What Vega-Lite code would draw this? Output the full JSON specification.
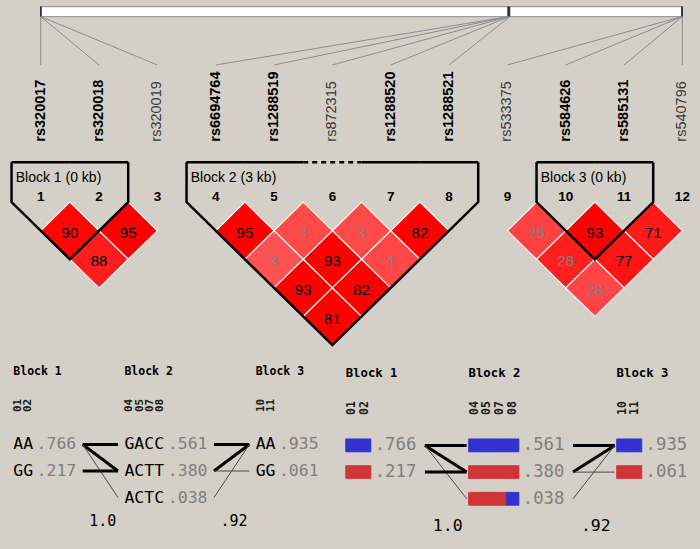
{
  "$schema": "https://vega.github.io/schema/vega-lite/v6.json",
  "background": "#d4d0c8",
  "padding": 0,
  "spacing": 0,
  "bounds": "flush",
  "config": {"view": {"stroke": null}, "axis": {"disable": true}, "legend": {"disable": true}, "concat": {"spacing": 0}},
  "datasets": {
    "markers": [
      {"id": 1, "name": "rs320017", "kb": 0, "block": 1, "used": true},
      {"id": 2, "name": "rs320018", "kb": 0.2, "block": 1, "used": true},
      {"id": 3, "name": "rs320019", "kb": 0.5, "block": null, "used": false},
      {"id": 4, "name": "rs6694764", "kb": 728.0, "block": 2, "used": true},
      {"id": 5, "name": "rs1288519", "kb": 728.9, "block": 2, "used": true},
      {"id": 6, "name": "rs872315", "kb": 729.6, "block": 2, "used": false},
      {"id": 7, "name": "rs1288520", "kb": 730.2, "block": 2, "used": true},
      {"id": 8, "name": "rs1288521", "kb": 731.0, "block": 2, "used": true},
      {"id": 9, "name": "rs533375", "kb": 998.8, "block": null, "used": false},
      {"id": 10, "name": "rs584626", "kb": 999.5, "block": 3, "used": true},
      {"id": 11, "name": "rs585131", "kb": 999.6, "block": 3, "used": true},
      {"id": 12, "name": "rs540796", "kb": 1000, "block": null, "used": false}
    ],
    "ld": [
      {"i": 1, "j": 2, "val": 90, "dp": 0.98},
      {"i": 2, "j": 3, "val": 95, "dp": 1},
      {"i": 1, "j": 3, "val": 88, "dp": 0.89},
      {"i": 4, "j": 5, "val": 95, "dp": 1},
      {"i": 5, "j": 6, "val": 3, "dp": 0.71},
      {"i": 6, "j": 7, "val": 3, "dp": 0.71},
      {"i": 7, "j": 8, "val": 82, "dp": 1},
      {"i": 4, "j": 6, "val": 3, "dp": 0.68},
      {"i": 5, "j": 7, "val": 93, "dp": 1},
      {"i": 6, "j": 8, "val": 4, "dp": 0.72},
      {"i": 4, "j": 7, "val": 93, "dp": 1},
      {"i": 5, "j": 8, "val": 82, "dp": 1},
      {"i": 4, "j": 8, "val": 81, "dp": 1},
      {"i": 9, "j": 10, "val": 25, "dp": 0.745},
      {"i": 10, "j": 11, "val": 93, "dp": 1},
      {"i": 11, "j": 12, "val": 71, "dp": 0.9},
      {"i": 9, "j": 11, "val": 28, "dp": 0.88},
      {"i": 10, "j": 12, "val": 77, "dp": 0.92},
      {"i": 9, "j": 12, "val": 28, "dp": 0.73}
    ],
    "blocks": [
      {"block": 1, "start": 1, "end": 2, "kb": 0},
      {"block": 2, "start": 4, "end": 8, "kb": 3},
      {"block": 3, "start": 10, "end": 11, "kb": 0}
    ],
    "haps": [
      {"block": 1, "rank": 1, "hap": "AA", "freq": 0.766, "to": [1, 2, 3], "w": [2, 2, 1], "mld": 1.0},
      {"block": 1, "rank": 2, "hap": "GG", "freq": 0.217, "to": [2], "w": [2]},
      {"block": 2, "rank": 1, "hap": "GACC", "freq": 0.561, "to": [1], "w": [2], "mld": 0.92},
      {"block": 2, "rank": 2, "hap": "ACTT", "freq": 0.380, "to": [1, 2], "w": [2, 1]},
      {"block": 2, "rank": 3, "hap": "ACTC", "freq": 0.038, "to": [1], "w": [1]},
      {"block": 3, "rank": 1, "hap": "AA", "freq": 0.935, "to": [], "w": []},
      {"block": 3, "rank": 2, "hap": "GG", "freq": 0.061, "to": [], "w": []}
    ]
  },
  "vconcat": [
    {
      "width": 700,
      "height": 355,
      "layer": [
        {
          "data": {"name": "markers"},
          "transform": [
            {"joinaggregate": [{"op": "min", "field": "kb", "as": "kmin"}, {"op": "max", "field": "kb", "as": "kmax"}, {"op": "count", "as": "n"}]},
            {"calculate": "1 + (datum.n - 1) * (datum.kb - datum.kmin) / (datum.kmax - datum.kmin)", "as": "u"}
          ],
          "layer": [
            {
              "transform": [{"aggregate": [{"op": "min", "field": "u", "as": "u0"}, {"op": "max", "field": "u", "as": "u1"}]}],
              "mark": {"type": "rect", "fill": "#ffffff", "stroke": "#8a8a8a", "strokeWidth": 1},
              "encoding": {
                "x": {"field": "u0", "type": "quantitative", "scale": {"domain": [0.302, 12.302], "nice": false, "zero": false}},
                "x2": {"field": "u1"},
                "y": {"datum": -6.832, "type": "quantitative", "scale": {"domain": [-7.066, 5.346], "nice": false, "zero": false, "reverse": true}},
                "y2": {"datum": -6.483}
              }
            },
            {
              "mark": {"type": "rule", "stroke": "#303030", "strokeWidth": 1},
              "encoding": {
                "x": {"field": "u", "type": "quantitative", "scale": {"domain": [0.302, 12.302], "nice": false, "zero": false}},
                "y": {"datum": -6.832, "type": "quantitative", "scale": {"domain": [-7.066, 5.346], "nice": false, "zero": false, "reverse": true}},
                "y2": {"datum": -6.483}
              }
            },
            {
              "mark": {"type": "rule", "stroke": "#8c8c8c", "strokeWidth": 1},
              "encoding": {
                "x": {"field": "u", "type": "quantitative", "scale": {"domain": [0.302, 12.302], "nice": false, "zero": false}},
                "x2": {"field": "id"},
                "y": {"datum": -6.483, "type": "quantitative", "scale": {"domain": [-7.066, 5.346], "nice": false, "zero": false, "reverse": true}},
                "y2": {"datum": -4.794}
              }
            }
          ]
        },
        {
          "data": {"name": "ld"},
          "transform": [
            {"calculate": "(datum.i + datum.j) / 2", "as": "mid"},
            {"calculate": "datum.j - datum.i", "as": "lvl"}
          ],
          "layer": [
            {
              "mark": {"type": "point", "shape": "M-1,0L0,-0.98L1,0L0,0.98Z", "size": 3403, "filled": true, "opacity": 1, "stroke": "#f4f4f4", "strokeWidth": 1.2},
              "encoding": {
                "x": {"field": "mid", "type": "quantitative", "scale": {"domain": [0.302, 12.302], "nice": false, "zero": false}},
                "y": {"field": "lvl", "type": "quantitative", "scale": {"domain": [-7.066, 5.346], "nice": false, "zero": false, "reverse": true}},
                "color": {"field": "dp", "type": "quantitative", "scale": {"domain": [0, 1], "range": ["#ffffff", "#ff0000"], "interpolate": "rgb"}}
              }
            },
            {
              "mark": {"type": "text", "align": "center", "baseline": "middle", "font": "Liberation Sans", "fontSize": 15, "dy": 2},
              "encoding": {
                "x": {"field": "mid", "type": "quantitative", "scale": {"domain": [0.302, 12.302], "nice": false, "zero": false}},
                "y": {"field": "lvl", "type": "quantitative", "scale": {"domain": [-7.066, 5.346], "nice": false, "zero": false, "reverse": true}},
                "text": {"field": "val"},
                "color": {"condition": {"test": "datum.val >= 50", "value": "#000000"}, "value": "#808080"}
              }
            }
          ]
        },
        {
          "data": {"name": "blocks"},
          "transform": [
            {"calculate": "[[datum.start - 0.5, -1.39], [datum.start - 0.5, 0], [(datum.start + datum.end) / 2, datum.end - datum.start + 1], [datum.end + 0.5, 0], [datum.end + 0.5, -1.39]]", "as": "pts"},
            {"flatten": ["pts"], "as": ["pt"]},
            {"calculate": "datum.pt[0]", "as": "px"},
            {"calculate": "datum.pt[1]", "as": "py"},
            {"window": [{"op": "row_number", "as": "ord"}], "groupby": ["block"]}
          ],
          "mark": {"type": "line", "color": "#000000", "strokeWidth": 2.5, "strokeJoin": "miter"},
          "encoding": {
            "x": {"field": "px", "type": "quantitative", "scale": {"domain": [0.302, 12.302], "nice": false, "zero": false}},
            "y": {"field": "py", "type": "quantitative", "scale": {"domain": [-7.066, 5.346], "nice": false, "zero": false, "reverse": true}},
            "detail": {"field": "block", "type": "nominal"},
            "order": {"field": "ord", "type": "quantitative"}
          }
        },
        {
          "data": {"name": "markers"},
          "transform": [
            {"filter": "isValid(datum.block)"},
            {"calculate": "datum.id - 0.5", "as": "lo"},
            {"calculate": "datum.id + 0.5", "as": "hi"},
            {"calculate": "datum.used ? 'solid' : 'dashed'", "as": "sty"}
          ],
          "mark": {"type": "rule", "color": "#000000", "strokeWidth": 2.5},
          "encoding": {
            "x": {"field": "lo", "type": "quantitative", "scale": {"domain": [0.302, 12.302], "nice": false, "zero": false}},
            "x2": {"field": "hi"},
            "y": {"datum": -1.39, "type": "quantitative", "scale": {"domain": [-7.066, 5.346], "nice": false, "zero": false, "reverse": true}},
            "strokeDash": {"field": "sty", "type": "nominal", "scale": {"domain": ["solid", "dashed"], "range": [[1, 0], [5, 4]]}}
          }
        },
        {
          "data": {"name": "blocks"},
          "transform": [{"calculate": "'Block ' + datum.block + ' (' + datum.kb + ' kb)'", "as": "label"}],
          "mark": {"type": "text", "align": "left", "baseline": "middle", "font": "Liberation Sans", "fontSize": 14, "dx": -25, "color": "#000000"},
          "encoding": {
            "x": {"field": "start", "type": "quantitative", "scale": {"domain": [0.302, 12.302], "nice": false, "zero": false}},
            "y": {"datum": -0.84, "type": "quantitative", "scale": {"domain": [-7.066, 5.346], "nice": false, "zero": false, "reverse": true}},
            "text": {"field": "label"}
          }
        },
        {
          "data": {"name": "markers"},
          "transform": [{"filter": "datum.used"}],
          "mark": {"type": "text", "align": "left", "baseline": "middle", "angle": 270, "font": "Liberation Sans", "fontWeight": "bold", "fontSize": 14.5, "dx": 0, "color": "#000000"},
          "encoding": {
            "x": {"field": "id", "type": "quantitative", "scale": {"domain": [0.302, 12.302], "nice": false, "zero": false}},
            "y": {"datum": -2.112, "type": "quantitative", "scale": {"domain": [-7.066, 5.346], "nice": false, "zero": false, "reverse": true}},
            "text": {"field": "name"}
          }
        },
        {
          "data": {"name": "markers"},
          "transform": [{"filter": "!datum.used"}],
          "mark": {"type": "text", "align": "left", "baseline": "middle", "angle": 270, "font": "Liberation Sans", "fontSize": 14.5, "color": "#3a3a3a"},
          "encoding": {
            "x": {"field": "id", "type": "quantitative", "scale": {"domain": [0.302, 12.302], "nice": false, "zero": false}},
            "y": {"datum": -2.112, "type": "quantitative", "scale": {"domain": [-7.066, 5.346], "nice": false, "zero": false, "reverse": true}},
            "text": {"field": "name"}
          }
        },
        {
          "data": {"name": "markers"},
          "mark": {"type": "text", "align": "center", "baseline": "middle", "font": "Liberation Sans", "fontWeight": "bold", "fontSize": 13.5, "color": "#000000"},
          "encoding": {
            "x": {"field": "id", "type": "quantitative", "scale": {"domain": [0.302, 12.302], "nice": false, "zero": false}},
            "y": {"datum": -0.18, "type": "quantitative", "scale": {"domain": [-7.066, 5.346], "nice": false, "zero": false, "reverse": true}},
            "text": {"field": "id"}
          }
        }
      ]
    },
    {
      "spacing": 0,
      "bounds": "flush",
      "hconcat": [
        {
          "width": 340,
          "height": 194,
          "layer": [
            {
              "data": {"name": "haps"},
              "transform": [
                {"calculate": "length(datum.hap)", "as": "nA"},
                {"calculate": "datum.rank == 1 ? datum.nA : 0", "as": "w1"},
                {"window": [{"op": "sum", "field": "w1", "as": "cum"}], "sort": [{"field": "block", "order": "ascending"}, {"field": "rank", "order": "ascending"}]},
                {"calculate": "datum.cum - datum.nA + 9 * (datum.block - 1)", "as": "s"}
              ],
              "layer": [
                {
                  "mark": {"type": "text", "align": "left", "baseline": "middle", "font": "DejaVu Sans Mono", "fontSize": 16.5, "color": "#000000"},
                  "encoding": {
                    "x": {"field": "s", "type": "quantitative", "scale": {"domain": [-1.317, 32.35], "nice": false, "zero": false}},
                    "y": {"field": "rank", "type": "quantitative", "scale": {"domain": [-2.377, 4.943], "nice": false, "zero": false, "reverse": true}},
                    "text": {"field": "hap"}
                  }
                },
                {
                  "transform": [
                    {"calculate": "datum.s + datum.nA + 0.3", "as": "fx"},
                    {"calculate": "substring(format(datum.freq, '.3f'), 1)", "as": "ft"}
                  ],
                  "mark": {"type": "text", "align": "left", "baseline": "middle", "font": "DejaVu Sans Mono", "fontSize": 16.5, "color": "#7f7f7f"},
                  "encoding": {
                    "x": {"field": "fx", "type": "quantitative", "scale": {"domain": [-1.317, 32.35], "nice": false, "zero": false}},
                    "y": {"field": "rank", "type": "quantitative", "scale": {"domain": [-2.377, 4.943], "nice": false, "zero": false, "reverse": true}},
                    "text": {"field": "ft"}
                  }
                },
                {
                  "transform": [
                    {"flatten": ["to", "w"], "as": ["tgt", "wt"]},
                    {"calculate": "datum.s + datum.nA + 4.87", "as": "lx1"},
                    {"calculate": "datum.s + datum.nA + 8.37", "as": "lx2"}
                  ],
                  "mark": {"type": "rule"},
                  "encoding": {
                    "x": {"field": "lx1", "type": "quantitative", "scale": {"domain": [-1.317, 32.35], "nice": false, "zero": false}},
                    "x2": {"field": "lx2"},
                    "y": {"field": "rank", "type": "quantitative", "scale": {"domain": [-2.377, 4.943], "nice": false, "zero": false, "reverse": true}},
                    "y2": {"field": "tgt"},
                    "strokeWidth": {"field": "wt", "type": "quantitative", "scale": {"domain": [1, 2], "range": [1, 3]}},
                    "color": {"condition": {"test": "datum.wt == 2", "value": "#000000"}, "value": "#4a4a4a"}
                  }
                },
                {
                  "transform": [{"filter": "datum.rank == 1"}, {"calculate": "'Block ' + datum.block", "as": "bt"}],
                  "mark": {"type": "text", "align": "left", "baseline": "middle", "font": "DejaVu Sans Mono", "fontWeight": "bold", "fontSize": 11.5, "color": "#000000"},
                  "encoding": {
                    "x": {"field": "s", "type": "quantitative", "scale": {"domain": [-1.317, 32.35], "nice": false, "zero": false}},
                    "y": {"datum": -1.73, "type": "quantitative", "scale": {"domain": [-2.377, 4.943], "nice": false, "zero": false, "reverse": true}},
                    "text": {"field": "bt"}
                  }
                },
                {
                  "transform": [
                    {"filter": "isValid(datum.mld)"},
                    {"calculate": "datum.mld >= 1 ? '1.0' : substring(format(datum.mld, '.2f'), 1)", "as": "mt"},
                    {"calculate": "datum.s + datum.nA + 6.85", "as": "mx"}
                  ],
                  "mark": {"type": "text", "align": "center", "baseline": "middle", "font": "DejaVu Sans Mono", "fontSize": 15, "color": "#000000"},
                  "encoding": {
                    "x": {"field": "mx", "type": "quantitative", "scale": {"domain": [-1.317, 32.35], "nice": false, "zero": false}},
                    "y": {"datum": 3.89, "type": "quantitative", "scale": {"domain": [-2.377, 4.943], "nice": false, "zero": false, "reverse": true}},
                    "text": {"field": "mt"}
                  }
                }
              ]
            },
            {
              "data": {"name": "markers"},
              "transform": [
                {"filter": "datum.used"},
                {"window": [{"op": "row_number", "as": "rn"}], "sort": [{"field": "id", "order": "ascending"}]},
                {"calculate": "datum.rn - 1 + 9 * (datum.block - 1) + 0.5", "as": "hx"},
                {"calculate": "(datum.id < 10 ? '0' : '') + datum.id", "as": "ht"}
              ],
              "mark": {"type": "text", "align": "left", "baseline": "middle", "angle": 270, "font": "DejaVu Sans Mono", "fontWeight": "bold", "fontSize": 11, "color": "#202020"},
              "encoding": {
                "x": {"field": "hx", "type": "quantitative", "scale": {"domain": [-1.317, 32.35], "nice": false, "zero": false}},
                "y": {"datum": -0.226, "type": "quantitative", "scale": {"domain": [-2.377, 4.943], "nice": false, "zero": false, "reverse": true}},
                "text": {"field": "ht"}
              }
            }
          ]
        },
        {
          "width": 360,
          "height": 194,
          "layer": [
            {
              "data": {"name": "haps"},
              "transform": [
                {"calculate": "length(datum.hap)", "as": "nA"},
                {"calculate": "datum.rank == 1 ? datum.nA : 0", "as": "w1"},
                {"window": [{"op": "sum", "field": "w1", "as": "cum"}], "sort": [{"field": "block", "order": "ascending"}, {"field": "rank", "order": "ascending"}]},
                {"calculate": "datum.cum - datum.nA + 7.75 * (datum.block - 1)", "as": "s"}
              ],
              "layer": [
                {
                  "transform": [
                    {"calculate": "split(datum.hap, '')", "as": "chars"},
                    {"flatten": ["chars"], "as": ["allele"]},
                    {"window": [{"op": "row_number", "as": "idx"}], "groupby": ["block", "rank"]},
                    {"window": [{"op": "first_value", "field": "allele", "as": "ref"}], "groupby": ["block", "idx"], "sort": [{"field": "rank", "order": "ascending"}]},
                    {"calculate": "datum.allele == datum.ref ? 'same' : 'diff'", "as": "m"},
                    {"calculate": "datum.s + datum.idx - 1", "as": "bx1"},
                    {"calculate": "datum.s + datum.idx", "as": "bx2"},
                    {"calculate": "datum.rank - 0.243", "as": "by1"},
                    {"calculate": "datum.rank + 0.243", "as": "by2"}
                  ],
                  "mark": {"type": "rect", "strokeWidth": 0.8},
                  "encoding": {
                    "x": {"field": "bx1", "type": "quantitative", "scale": {"domain": [-0.452, 28.119], "nice": false, "zero": false}},
                    "x2": {"field": "bx2"},
                    "y": {"field": "by1", "type": "quantitative", "scale": {"domain": [-2.386, 4.88], "nice": false, "zero": false, "reverse": true}},
                    "y2": {"field": "by2"},
                    "color": {"field": "m", "type": "nominal", "scale": {"domain": ["same", "diff"], "range": ["#3232cf", "#d03434"]}},
                    "stroke": {"field": "m", "type": "nominal", "scale": {"domain": ["same", "diff"], "range": ["#3232cf", "#d03434"]}}
                  }
                },
                {
                  "transform": [
                    {"calculate": "datum.s + datum.nA + 0.3", "as": "fx"},
                    {"calculate": "substring(format(datum.freq, '.3f'), 1)", "as": "ft"}
                  ],
                  "mark": {"type": "text", "align": "left", "baseline": "middle", "font": "DejaVu Sans Mono", "fontSize": 17.3, "color": "#7f7f7f"},
                  "encoding": {
                    "x": {"field": "fx", "type": "quantitative", "scale": {"domain": [-0.452, 28.119], "nice": false, "zero": false}},
                    "y": {"field": "rank", "type": "quantitative", "scale": {"domain": [-2.386, 4.88], "nice": false, "zero": false, "reverse": true}},
                    "text": {"field": "ft"}
                  }
                },
                {
                  "transform": [
                    {"flatten": ["to", "w"], "as": ["tgt", "wt"]},
                    {"calculate": "datum.s + datum.nA + 4.29", "as": "lx1"},
                    {"calculate": "datum.s + datum.nA + 7.6", "as": "lx2"}
                  ],
                  "mark": {"type": "rule"},
                  "encoding": {
                    "x": {"field": "lx1", "type": "quantitative", "scale": {"domain": [-0.452, 28.119], "nice": false, "zero": false}},
                    "x2": {"field": "lx2"},
                    "y": {"field": "rank", "type": "quantitative", "scale": {"domain": [-2.386, 4.88], "nice": false, "zero": false, "reverse": true}},
                    "y2": {"field": "tgt"},
                    "strokeWidth": {"field": "wt", "type": "quantitative", "scale": {"domain": [1, 2], "range": [1, 3]}},
                    "color": {"condition": {"test": "datum.wt == 2", "value": "#000000"}, "value": "#4a4a4a"}
                  }
                },
                {
                  "transform": [{"filter": "datum.rank == 1"}, {"calculate": "'Block ' + datum.block", "as": "bt"}],
                  "mark": {"type": "text", "align": "left", "baseline": "middle", "font": "DejaVu Sans Mono", "fontWeight": "bold", "fontSize": 12.3, "color": "#000000"},
                  "encoding": {
                    "x": {"field": "s", "type": "quantitative", "scale": {"domain": [-0.452, 28.119], "nice": false, "zero": false}},
                    "y": {"datum": -1.7, "type": "quantitative", "scale": {"domain": [-2.386, 4.88], "nice": false, "zero": false, "reverse": true}},
                    "text": {"field": "bt"}
                  }
                },
                {
                  "transform": [
                    {"filter": "isValid(datum.mld)"},
                    {"calculate": "datum.mld >= 1 ? '1.0' : substring(format(datum.mld, '.2f'), 1)", "as": "mt"},
                    {"calculate": "datum.s + datum.nA + 6.1", "as": "mx"}
                  ],
                  "mark": {"type": "text", "align": "center", "baseline": "middle", "font": "DejaVu Sans Mono", "fontSize": 16.5, "color": "#000000"},
                  "encoding": {
                    "x": {"field": "mx", "type": "quantitative", "scale": {"domain": [-0.452, 28.119], "nice": false, "zero": false}},
                    "y": {"datum": 4.0, "type": "quantitative", "scale": {"domain": [-2.386, 4.88], "nice": false, "zero": false, "reverse": true}},
                    "text": {"field": "mt"}
                  }
                }
              ]
            },
            {
              "data": {"name": "markers"},
              "transform": [
                {"filter": "datum.used"},
                {"window": [{"op": "row_number", "as": "rn"}], "sort": [{"field": "id", "order": "ascending"}]},
                {"calculate": "datum.rn - 1 + 7.75 * (datum.block - 1) + 0.5", "as": "hx"},
                {"calculate": "(datum.id < 10 ? '0' : '') + datum.id", "as": "ht"}
              ],
              "mark": {"type": "text", "align": "left", "baseline": "middle", "angle": 270, "font": "DejaVu Sans Mono", "fontWeight": "bold", "fontSize": 11.5, "color": "#202020"},
              "encoding": {
                "x": {"field": "hx", "type": "quantitative", "scale": {"domain": [-0.452, 28.119], "nice": false, "zero": false}},
                "y": {"datum": -0.14, "type": "quantitative", "scale": {"domain": [-2.386, 4.88], "nice": false, "zero": false, "reverse": true}},
                "text": {"field": "ht"}
              }
            }
          ]
        }
      ]
    }
  ]
}
